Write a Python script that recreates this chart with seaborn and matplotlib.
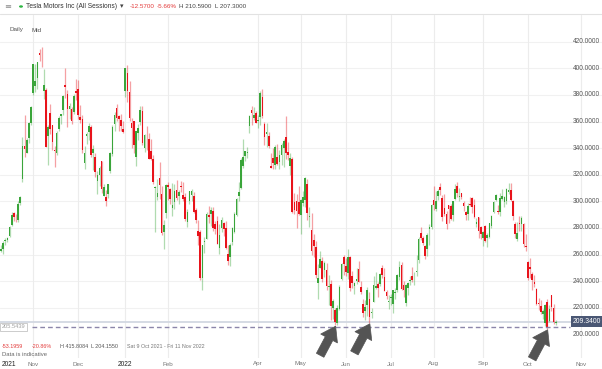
import numpy as np
import matplotlib
matplotlib.use("Agg")
import matplotlib.pyplot as plt
import matplotlib.transforms as mtransforms
from matplotlib.patches import Polygon, Circle
import seaborn as sns

# daily mid candles, Mon 11 Oct 2021 - Thu 20 Oct 2022, one line per month
opens = [
    262.5, 264.1, 270.0, 271.2, 274.2, 282.1, 291.6, 288.9, 285.7, 298.8, 316.8, 341.6, 336.6, 347.8, 359.1,
    381.7, 386.5, 392.4, 411.5, 407.9, 383.3, 383.4, 349.0, 366.7, 357.1, 338.0, 336.6, 354.2, 364.5, 368.7, 387.4, 380.5, 369.6, 369.3, 366.9, 382.6,
    384.7, 363.3, 361.9, 328.7, 349.2, 352.1, 355.8, 336.6, 333.2, 315.0, 319.9, 330.0, 304.3, 303.3, 305.2, 322.7, 335.6, 357.9, 369.8, 364.0, 360.9, 354.2,
    382.6, 396.5, 382.2, 359.0, 360.1, 333.3, 351.2, 359.6, 368.1, 340.0, 344.0, 347.2, 337.7, 332.1, 310.0, 303.6, 317.5, 305.7, 277.2, 290.9,
    312.6, 308.9, 295.2, 299.3, 308.6, 303.7, 311.7, 304.4, 303.2, 284.3, 300.0, 304.7, 304.3, 293.5, 278.0, 276.7, 242.5, 269.7, 271.7,
    289.9, 290.7, 292.9, 283.0, 285.4, 265.2, 279.8, 283.8, 280.1, 260.2, 258.4, 269.6, 277.0, 290.0, 304.0, 310.0, 326.6, 334.3, 336.6, 356.9, 368.3, 363.0, 366.2,
    360.4, 363.1, 378.8, 357.8, 350.8, 349.2, 326.8, 332.5, 327.0, 333.1, 329.4, 335.0, 340.0, 348.0, 337.1, 326.8, 331.7, 299.5, 300.5, 299.7,
    289.9, 299.0, 301.0, 313.0, 288.2, 278.7, 271.2, 265.7, 238.5, 249.8, 255.0, 248.3, 248.0, 235.3, 237.7, 219.9, 218.2, 208.3, 219.3, 241.9, 257.9,
    251.3, 246.0, 258.0, 244.0, 236.6, 240.1, 249.3, 235.7, 223.0, 217.2, 222.0, 226.3, 216.0, 224.6, 234.5, 237.9, 237.5, 250.0, 243.0, 231.5, 224.5,
    227.0, 223.0, 230.8, 233.3, 242.8, 252.1, 236.8, 223.6, 234.9, 240.0, 244.0, 245.0, 247.0, 255.9, 276.2, 272.8, 266.5, 263.8, 279.0, 280.7,
    301.3, 294.0, 304.0, 311.0, 302.7, 295.0, 290.3, 297.1, 296.5, 289.4, 301.8, 311.7, 303.4, 306.0, 299.0, 291.9, 290.5, 297.6, 302.4, 297.4, 282.8, 287.9, 280.6,
    272.6, 281.1, 272.7, 273.1, 281.3, 291.7, 300.7, 292.9, 292.2, 301.8, 299.6, 300.1, 306.9, 308.3, 299.9, 283.1, 271.8, 283.8, 283.1, 282.8, 266.2,
    254.5, 250.5, 245.0, 239.4, 233.9, 223.9, 221.0, 215.3, 208.3, 224.0, 210.0, 229.5, 220.0, 208.3,
]
highs = [
    267.1, 270.0, 272.7, 273.4, 281.6, 291.8, 292.3, 290.6, 300.0, 303.8, 348.3, 365.0, 347.3, 359.7, 371.7,
    403.2, 402.9, 405.1, 414.5, 415.8, 399.8, 384.9, 357.6, 373.0, 357.7, 341.5, 353.1, 364.5, 366.0, 380.0, 400.6, 383.8, 374.0, 370.7, 380.7, 392.3,
    390.9, 372.3, 364.6, 341.9, 351.9, 358.9, 357.6, 342.3, 336.5, 322.7, 326.7, 330.2, 313.2, 308.6, 313.2, 336.8, 357.7, 367.2, 373.0, 365.2, 365.3, 360.7,
    400.4, 402.7, 390.1, 362.7, 360.3, 353.0, 358.4, 371.6, 371.9, 350.7, 356.9, 351.6, 347.2, 334.9, 311.3, 317.1, 329.2, 311.2, 285.8, 312.7,
    314.6, 310.3, 313.6, 312.8, 315.9, 308.8, 315.4, 314.2, 306.3, 293.9, 307.7, 309.5, 306.9, 294.7, 285.6, 278.4, 267.5, 273.2, 292.3,
    296.6, 295.5, 295.5, 285.2, 288.7, 283.3, 288.2, 284.8, 285.4, 266.9, 268.5, 280.7, 291.7, 302.6, 314.3, 332.6, 346.9, 338.0, 340.6, 365.0, 371.6, 371.3, 367.7,
    364.9, 383.3, 384.3, 359.7, 358.9, 352.4, 336.2, 340.4, 342.1, 343.4, 338.3, 344.0, 347.0, 364.3, 344.9, 336.2, 333.0, 306.0, 305.2, 311.5,
    302.1, 307.4, 318.5, 316.9, 296.0, 290.9, 275.1, 269.9, 253.2, 262.5, 258.1, 254.8, 253.5, 244.7, 240.5, 226.7, 219.9, 222.3, 237.4, 253.3, 259.6,
    257.3, 264.2, 259.0, 247.3, 239.7, 249.9, 255.5, 240.2, 226.3, 226.0, 235.7, 231.5, 220.0, 243.6, 246.8, 239.3, 246.1, 252.3, 249.9, 233.6, 229.5,
    230.2, 233.1, 234.6, 245.4, 254.9, 254.6, 239.8, 238.0, 239.1, 243.6, 250.5, 247.1, 259.3, 273.3, 280.8, 274.1, 267.3, 275.9, 283.3, 298.3,
    311.9, 307.8, 309.6, 313.6, 304.6, 305.2, 292.4, 297.5, 298.2, 300.2, 313.1, 314.7, 309.7, 306.5, 300.4, 292.4, 298.8, 303.6, 303.0, 302.0, 287.7, 288.5, 281.3,
    277.6, 282.4, 276.0, 283.8, 289.5, 299.9, 305.5, 297.4, 306.0, 309.1, 303.7, 309.8, 313.8, 313.8, 301.3, 284.5, 284.1, 288.7, 289.0, 283.7, 275.6,
    255.2, 257.5, 246.7, 244.6, 234.6, 227.0, 225.8, 219.3, 223.0, 226.3, 221.9, 229.8, 222.9, 210.6,
]
lows = [
    261.8, 260.7, 267.5, 269.3, 273.0, 281.4, 284.9, 284.5, 284.7, 296.9, 314.6, 333.4, 336.5, 343.8, 357.7,
    380.0, 382.0, 384.2, 405.7, 400.7, 376.8, 341.0, 327.3, 350.9, 338.7, 326.0, 334.7, 352.7, 358.5, 365.2, 377.5, 356.0, 362.0, 358.0, 366.0, 376.4,
    362.0, 358.8, 336.0, 324.4, 343.3, 346.0, 333.4, 323.5, 318.1, 305.6, 311.9, 306.0, 304.1, 296.7, 302.3, 321.3, 334.0, 352.8, 360.1, 353.2, 353.0, 351.5,
    378.7, 374.4, 360.3, 340.2, 336.7, 326.7, 346.3, 357.6, 342.2, 337.3, 338.7, 331.7, 331.3, 313.3, 276.7, 301.1, 301.9, 275.0, 264.0, 287.4,
    301.3, 297.7, 289.2, 294.0, 301.1, 298.3, 307.1, 300.0, 285.0, 281.0, 297.8, 300.4, 291.0, 283.4, 267.0, 241.0, 233.3, 260.8, 271.6,
    283.7, 281.4, 277.5, 275.1, 267.9, 260.7, 276.7, 274.3, 264.2, 252.0, 251.7, 267.4, 276.0, 289.1, 300.4, 309.4, 325.4, 330.0, 332.4, 351.2, 357.4, 361.3, 358.9,
    355.5, 357.5, 362.4, 342.6, 340.5, 340.4, 324.9, 324.5, 324.4, 327.4, 324.5, 327.3, 325.6, 332.0, 331.3, 320.0, 291.0, 290.8, 280.0, 289.6,
    275.3, 296.6, 295.6, 285.9, 281.0, 260.0, 258.1, 242.3, 226.7, 249.8, 239.7, 242.9, 233.3, 222.4, 211.0, 211.8, 206.9, 206.9, 218.0, 241.1, 244.7,
    243.6, 241.6, 232.4, 234.6, 230.0, 237.7, 239.3, 230.2, 213.0, 210.5, 213.9, 208.7, 212.6, 224.2, 233.8, 228.4, 236.3, 242.1, 232.3, 226.7, 218.9,
    222.1, 216.2, 226.3, 232.2, 241.2, 233.6, 228.4, 221.5, 229.3, 236.9, 239.6, 236.9, 243.5, 253.5, 270.7, 267.4, 256.3, 258.9, 267.2, 279.1,
    293.3, 292.7, 301.1, 305.0, 285.5, 289.1, 279.4, 283.4, 285.8, 285.0, 301.2, 302.9, 300.0, 301.9, 292.5, 286.3, 285.8, 296.5, 291.6, 287.5, 280.7, 272.7, 271.8,
    266.1, 269.1, 265.7, 272.3, 279.8, 291.3, 300.4, 290.4, 289.3, 300.7, 295.6, 297.8, 305.6, 300.6, 285.8, 272.8, 270.3, 277.5, 277.6, 265.8, 262.5,
    241.0, 242.0, 233.3, 235.4, 222.0, 218.0, 215.0, 211.5, 206.2, 204.2, 209.5, 217.3, 207.5, 207.3,
]
closes = [
    264.0, 268.6, 270.4, 272.8, 281.0, 290.0, 288.1, 288.6, 298.0, 303.2, 341.6, 339.5, 346.0, 359.0, 371.3,
    402.9, 390.7, 404.6, 410.0, 407.4, 387.6, 341.2, 356.0, 354.5, 344.5, 337.8, 351.6, 363.0, 365.5, 379.0, 385.6, 369.7, 372.0, 360.6, 379.0, 381.6,
    365.0, 361.5, 338.3, 336.3, 350.6, 356.3, 334.6, 339.0, 322.1, 319.5, 325.3, 309.0, 310.9, 300.0, 312.8, 336.3, 355.7, 364.7, 362.8, 362.1, 356.8, 352.3,
    399.9, 383.2, 362.7, 354.9, 342.3, 352.7, 354.8, 368.7, 343.9, 349.9, 343.5, 331.9, 332.1, 314.6, 310.0, 306.1, 312.5, 276.4, 282.1, 312.2,
    310.4, 301.9, 297.0, 307.8, 302.5, 307.3, 310.7, 301.5, 286.7, 291.9, 307.5, 307.8, 292.1, 285.7, 273.8, 242.5, 266.9, 270.0, 290.1,
    288.1, 293.3, 279.8, 279.4, 268.2, 274.8, 286.3, 279.4, 265.1, 255.5, 267.3, 280.1, 290.5, 301.8, 307.1, 331.3, 333.0, 338.0, 336.9, 364.0, 366.5, 364.7, 359.2,
    361.5, 381.8, 363.8, 348.6, 352.4, 341.8, 325.3, 329.0, 340.8, 328.3, 334.8, 342.7, 345.0, 336.3, 335.0, 332.7, 292.1, 293.8, 292.5, 290.3,
    301.0, 303.1, 317.5, 291.1, 288.6, 262.4, 266.7, 244.7, 242.7, 256.5, 241.5, 253.9, 236.6, 236.5, 221.3, 225.0, 209.4, 219.6, 235.9, 253.2, 252.8,
    246.8, 258.3, 234.5, 238.3, 238.9, 241.9, 239.7, 232.2, 215.7, 220.9, 233.0, 213.1, 216.8, 237.0, 236.1, 235.1, 245.7, 244.9, 232.7, 228.5, 224.5,
    227.3, 233.1, 231.7, 244.5, 250.8, 234.3, 233.1, 237.0, 238.3, 240.1, 240.5, 245.5, 247.5, 271.7, 272.2, 268.4, 258.9, 274.8, 280.9, 297.1,
    297.3, 300.6, 307.4, 308.6, 288.2, 290.4, 283.3, 294.4, 286.6, 300.0, 309.3, 306.6, 304.0, 302.9, 296.7, 289.9, 296.5, 297.1, 296.1, 288.1, 284.8, 277.7, 275.6,
    277.2, 270.2, 274.4, 283.7, 289.3, 299.7, 304.4, 292.1, 302.6, 303.8, 303.4, 309.1, 308.7, 300.8, 288.6, 275.3, 276.0, 282.9, 287.8, 268.2, 265.3,
    242.4, 249.4, 240.8, 238.1, 223.1, 223.0, 216.5, 217.2, 221.7, 205.0, 219.4, 220.2, 209.0, 209.34,
]

# x axis labels, placed at the trading-day index of each month start
month_labels = ["2021", "Nov", "Dec", "2022", "Feb", "Apr", "May", "Jun", "Jul", "Aug", "Sep", "Oct", "Nov"]
month_pos = [3.7, 15, 36, 58, 78, 120, 140, 161, 182, 202, 225, 246, 271]
price_ticks = [200, 220, 240, 260, 280, 300, 320, 340, 360, 380, 400, 420]

last_price = 209.34
marked_low = 205.5439
arrow_days = [156, 172, 255]   # 24 May, 16 Jun, 14 Oct 2022

GREEN = "#3aa53a"
RED = "#e8131b"

sns.set_theme(style="white")
plt.rcParams["font.family"] = ["Liberation Sans", "DejaVu Sans"]

W, H = 602, 369
fig = plt.figure(figsize=(W / 100, H / 100), dpi=100)
ax = fig.add_axes([0, 11 / H, 1, 343 / H])
ax.set_xlim(-0.47, 280.6)
ax.set_ylim(182.2, 440.1)
for s in ax.spines.values():
    s.set_visible(False)
ax.set_xticks([])
ax.set_yticks([])

# grid
for p in price_ticks[1:]:
    ax.axhline(p, color="#f1f1f1", lw=0.8, zorder=0)
for lab, pos in zip(month_labels, month_pos):
    if lab != "2021":
        ax.axvline(pos, color="#ececec", lw=0.8, zorder=0)

# candles
o = np.array(opens)
h = np.array(highs)
l = np.array(lows)
c = np.array(closes)
x = np.arange(len(c))
up = c >= o
body = np.maximum(np.abs(c - o), 0.7)
for mask, col in [(up, GREEN), (~up, RED)]:
    ax.vlines(x[mask], l[mask], h[mask], color=col, alpha=0.4, lw=0.9, zorder=2)
    ax.bar(x[mask], body[mask], bottom=np.minimum(o, c)[mask], width=0.75,
           color=col, lw=0, zorder=3)

# last price line + tag
ax.axhline(last_price, color="#d2d8e2", lw=1.3, zorder=1)
ytr = ax.get_yaxis_transform()
ax.text(601 / W, last_price, f"{last_price:.4f}", transform=ytr, ha="right", va="center",
        fontsize=4.9, color="white", zorder=6,
        bbox=dict(boxstyle="square,pad=0.3", fc="#4a5774", ec="none"))

# marked low, dashed
ax.plot([32, 570], [marked_low, marked_low], transform=mtransforms.blended_transform_factory(
    mtransforms.IdentityTransform(), ax.transData), color="#8c86aa", lw=1.0,
    dashes=(3.4, 2.2), zorder=4)
ax.text(2 / W, marked_low, f"{marked_low:.4f}", transform=ytr, ha="left", va="center",
        fontsize=4.1, color="#a0a0a0", zorder=6,
        bbox=dict(boxstyle="square,pad=0.3", fc="white", ec="#c4c4c4", lw=0.6))

# price labels on the right
for p in price_ticks:
    ax.text(600 / W, p, f"{p:.4f}", transform=ytr, ha="right", va="center",
            fontsize=4.7, color="#555555", zorder=5)

# month labels
xtr = ax.get_xaxis_transform()
for lab, pos in zip(month_labels, month_pos):
    yr = lab.isdigit()
    ax.text(pos, -6 / 343, lab, transform=xtr, ha="center", va="center",
            fontsize=4.8 if yr else 4.5, color="#222222" if yr else "#777777", clip_on=False)


# arrows pointing at the lows
def block_arrow(day, price, angle=62, length=33, shaft=8.5, head_w=19, head_len=14):
    tip = ax.transData.transform((day, price)) + np.array([0.5, -1.0])
    u = np.array([np.cos(np.radians(angle)), np.sin(np.radians(angle))])
    n = np.array([-u[1], u[0]])
    base = tip - head_len * u
    tail = tip - length * u
    pts = [tip, base + head_w / 2 * n, base + shaft / 2 * n, tail + shaft / 2 * n,
           tail - shaft / 2 * n, base - shaft / 2 * n, base - head_w / 2 * n]
    pts = fig.transFigure.inverted().transform(pts)
    fig.add_artist(Polygon(pts, closed=True, transform=fig.transFigure,
                           fc="#545454", ec="#545454", lw=0.5, zorder=10))


for d in arrow_days:
    block_arrow(d, lows[d])


def ftext(px, py, s, **kw):
    fig.text(px / W, 1 - py / H, s, va="center", ha="left", **kw)


# header
fig.add_artist(plt.Line2D([0, 1], [1 - 14 / H, 1 - 14 / H], transform=fig.transFigure,
                          color="#e2e2e2", lw=0.8))
ftext(4, 6.5, "≡", fontsize=6, color="#8a8a8a", family="DejaVu Sans")
fig.add_artist(Circle((21 / W, 1 - 6.5 / H), 2.0 / W, transform=fig.transFigure,
                      fc="#2db642", ec="none"))
ftext(26, 6.5, "Tesla Motors Inc (All Sessions)", fontsize=4.8, color="#333333")
ftext(120, 6.5, "▾", fontsize=5, color="#444444", family="DejaVu Sans")
ftext(130, 6.5, "-12.5700", fontsize=4.5, color="#e33a3a")
ftext(157, 6.5, "-5.66%", fontsize=4.5, color="#e33a3a")
ftext(179, 6.5, "H 210.5900  L 207.3000", fontsize=4.5, color="#444444")
ftext(10, 30, "Daily", fontsize=4.5, color="#555555")
ftext(32, 30, "Mid", fontsize=4.5, color="#555555")

# footer info
ftext(2, 346, "-53.1959", fontsize=3.9, color="#e33a3a")
ftext(32, 346, "-20.86%", fontsize=3.9, color="#e33a3a")
ftext(60, 346, "H 415.8084", fontsize=3.9, color="#555555")
ftext(91, 346, "L 204.1550", fontsize=3.9, color="#555555")
ftext(127, 346, "Sat 9 Oct 2021 - Fri 11 Nov 2022", fontsize=3.8, color="#777777")
ftext(2, 354, "Data is indicative", fontsize=4.2, color="#666666")

fig.savefig("out.png", dpi=100)
